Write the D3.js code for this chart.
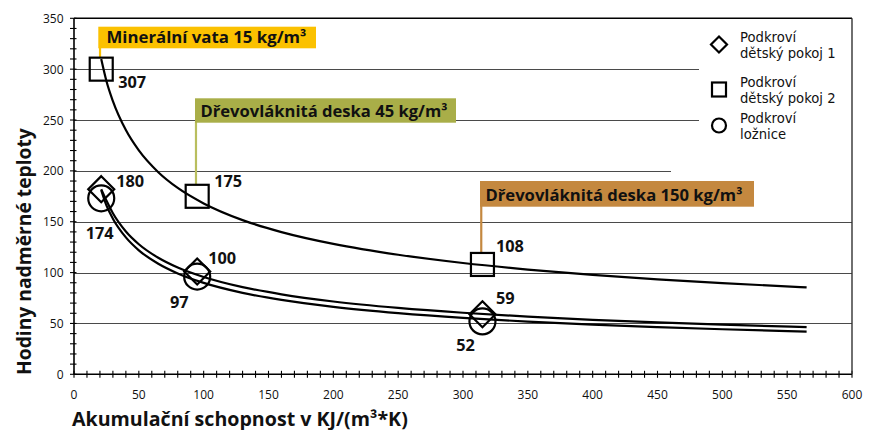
<!DOCTYPE html>
<html><head><meta charset="utf-8">
<script src="https://cdn.jsdelivr.net/npm/d3@7"></script>
<style>
body{margin:0;background:#fff;}
svg{display:block;font-family:"Open Sans",sans-serif;}
</style>
</head><body>
<svg id="chart" width="873" height="430"></svg>
<script>
// ---------- data ----------
const curveX = [21, 25, 30, 40, 50, 65, 80, 100, 130, 160, 200, 250, 300, 350, 400, 450, 500, 565];
const room1Curve   = [182, 170.8, 158.3, 140.4, 127.9, 114.6, 105.0, 95.7, 85.7, 78.6, 71.6, 65.3, 60.5, 56.7, 53.6, 51.0, 48.8, 46.4];
const room2Curve   = [310, 288.4, 268.6, 240.1, 220.1, 198.7, 183.2, 168.0, 151.6, 139.8, 128.2, 117.5, 109.4, 103.0, 97.8, 93.4, 89.6, 85.5];
const bedroomCurve = [181, 166.0, 153.0, 134.6, 121.9, 108.7, 99.2, 89.9, 80.1, 73.1, 66.3, 60.1, 55.4, 51.8, 48.8, 46.4, 44.3, 41.9];

const markerX        = [21, 95, 315];
const room1Values    = [182, 101, 59];
const room2Values    = [300, 175, 108];
const bedroomValues  = [173, 96, 52];
const room1Labels    = ["180", "100", "59"];
const room2Labels    = ["307", "175", "108"];
const bedroomLabels  = ["174", "97", "52"];

const seriesNames = [["Podkroví", "dětský pokoj 1"], ["Podkroví", "dětský pokoj 2"], ["Podkroví", "ložnice"]];
const materials = ["Minerální vata 15 kg/m³", "Dřevovláknitá deska 45 kg/m³", "Dřevovláknitá deska 150 kg/m³"];
const materialColors = ["#FBC100", "#A9AE48", "#C4883F"];
const materialLineColors = ["#FBC100", "#B9BE5E", "#C4883F"];

const xTicks = d3.range(0, 601, 50);
const yTicks = d3.range(0, 351, 50);
const xTitle = "Akumulační schopnost v KJ/(m³*K)";
const yTitle = "Hodiny nadměrné teploty";

// ---------- helpers ----------
function fit(sel, target) {
  const n = sel.node();
  const fs = parseFloat(sel.attr("font-size"));
  const w = n.getComputedTextLength();
  if (w > 0) sel.attr("font-size", (fs * target / w).toFixed(2));
  return sel;
}
function fittedSize(sample, base, weight, target, family) {
  const t = svg.append("text").attr("font-size", base).attr("font-weight", weight).text(sample);
  if (family) t.attr("font-family", family);
  const w = t.node().getComputedTextLength();
  t.remove();
  return w > 0 ? base * target / w : base;
}

// ---------- layout ----------
const svg = d3.select("#chart");
const x = d3.scaleLinear().domain([0, 600]).range([74, 852]);
const y = d3.scaleLinear().domain([0, 350]).range([374.3, 18.3]);

const legendFamily = "'DejaVu Sans', sans-serif";
const tickFont = fittedSize("350", 12.5, 400, 20.6);
const valueFont = fittedSize("307", 16, 700, 28);
const legendFont = Math.min(13.2, fittedSize("dětský pokoj 1", 13, 400, 97, legendFamily));

// grid lines
const gridExtent = {300: 699, 250: 699, 200: 671};
svg.append("g").selectAll("line").data(yTicks.filter(d => d > 0))
  .join("line")
  .attr("x1", x(0)).attr("x2", d => gridExtent[d] || x(600))
  .attr("y1", d => Math.round(y(d)) + 0.5).attr("y2", d => Math.round(y(d)) + 0.5)
  .attr("stroke", "#4a4a4a").attr("stroke-width", 1);

// annotation boxes
const boxLayout = [
  {x: 98.3, y: 26.7, w: 217.7, h: 21.6, tx: 106.5, ty: 43.4, tw: 200},
  {x: 195,  y: 98.3, w: 261,   h: 24.4, tx: 200.5, ty: 117.3, tw: 247},
  {x: 480,  y: 181,  w: 274,   h: 25.7, tx: 485.5, ty: 200.5, tw: 257}
];
const boxTargets = [
  {mx: markerX[0], my: room2Values[0]},
  {mx: markerX[1], my: room2Values[1]},
  {mx: markerX[2], my: room2Values[2]}
];
const ann = svg.append("g");
boxLayout.forEach((b, i) => {
  const cx = x(boxTargets[i].mx) - 1.2;
  ann.append("line")
    .attr("x1", cx).attr("x2", cx)
    .attr("y1", b.y + b.h - 1).attr("y2", y(boxTargets[i].my) - 11.5)
    .attr("stroke", materialLineColors[i]).attr("stroke-width", 2.2);
  ann.append("rect").attr("x", b.x).attr("y", b.y).attr("width", b.w).attr("height", b.h)
    .attr("fill", materialColors[i]);
  const t = ann.append("text").attr("x", b.tx).attr("y", b.ty)
    .attr("font-size", 16).attr("font-weight", 700).attr("fill", "#111")
    .text(materials[i]);
  fit(t, b.tw);
});

// curves
const line = d3.line().x(d => x(d[0])).y(d => y(d[1])).curve(d3.curveMonotoneX);
[room2Curve, room1Curve, bedroomCurve].forEach(c => {
  svg.append("path").datum(curveX.map((v, i) => [v, c[i]]))
    .attr("d", line).attr("fill", "none").attr("stroke", "#000").attr("stroke-width", 2.2);
});

// marker shapes
function drawMarker(g, type, cx, cy, s) {
  if (type === "diamond") {
    g.append("path").attr("d", `M${cx},${cy - s}L${cx + s},${cy}L${cx},${cy + s}L${cx - s},${cy}Z`)
      .attr("fill", "none").attr("stroke", "#000").attr("stroke-width", 2.2);
  } else if (type === "square") {
    g.append("rect").attr("x", cx - s).attr("y", cy - s).attr("width", 2 * s).attr("height", 2 * s)
      .attr("fill", "none").attr("stroke", "#000").attr("stroke-width", 2.2);
  } else {
    g.append("circle").attr("cx", cx).attr("cy", cy).attr("r", s)
      .attr("fill", "none").attr("stroke", "#000").attr("stroke-width", 2.2);
  }
}
const mk = svg.append("g");
markerX.forEach((mx, i) => {
  drawMarker(mk, "diamond", x(mx), y(room1Values[i]), 13);
  drawMarker(mk, "square", x(mx), y(room2Values[i]), 11.5);
  drawMarker(mk, "circle", x(mx), y(bedroomValues[i]), 13);
});

// value labels  [dx, dy, anchor]
const room1LabelPos   = [[15, -2, "start"], [11, -7.6, "start"], [13.5, -10.7, "start"]];
const room2LabelPos   = [[17, 19, "start"], [17, -9.6, "start"], [13.5, -12.5, "start"]];
const bedroomLabelPos = [[-15.5, 41, "start"], [-8.5, 31.6, "end"], [-7.5, 29.7, "end"]];
const lab = svg.append("g").attr("font-size", valueFont.toFixed(2)).attr("font-weight", 700).attr("fill", "#111");
function addLabels(vals, labels, pos) {
  markerX.forEach((mx, i) => {
    lab.append("text").attr("x", x(mx) + pos[i][0]).attr("y", y(vals[i]) + pos[i][1])
      .attr("text-anchor", pos[i][2]).text(labels[i]);
  });
}
addLabels(room1Values, room1Labels, room1LabelPos);
addLabels(room2Values, room2Labels, room2LabelPos);
addLabels(bedroomValues, bedroomLabels, bedroomLabelPos);

// legend
const legendY = [37, 82, 118];
const legendTypes = ["diamond", "square", "circle"];
const lg = svg.append("g").attr("font-family", legendFamily);
seriesNames.forEach((nm, i) => {
  drawMarker(lg, legendTypes[i], 719, legendY[i] + 7.5, legendTypes[i] === "diamond" ? 8 : 7);
  nm.forEach((s, j) => {
    lg.append("text").attr("x", 740).attr("y", legendY[i] + 4.6 + j * 16.5)
      .attr("font-size", legendFont.toFixed(2)).attr("fill", "#111").text(s);
  });
});

// axes
const xAxis = svg.append("g").attr("transform", `translate(0,${y(0)})`);
xAxis.append("line").attr("x1", x(0)).attr("x2", x(600)).attr("stroke", "#000").attr("stroke-width", 1.6);
xAxis.selectAll(".minor").data(d3.range(0, 601, 10)).join("line")
  .attr("x1", d => x(d)).attr("x2", d => x(d)).attr("y1", -3.5).attr("y2", 3.5)
  .attr("stroke", "#000").attr("stroke-width", 1.1);
xAxis.selectAll("text").data(xTicks).join("text")
  .attr("x", d => x(d)).attr("y", 25).attr("text-anchor", "middle")
  .attr("font-size", tickFont.toFixed(2)).attr("fill", "#111").text(d => d);

const yAxis = svg.append("g");
yAxis.append("line").attr("x1", x(0)).attr("x2", x(0)).attr("y1", y(0)).attr("y2", y(350))
  .attr("stroke", "#000").attr("stroke-width", 1.6);
yAxis.selectAll(".minor").data(d3.range(0, 351, 10)).join("line")
  .attr("x1", x(0) - 4).attr("x2", x(0) + 2.5).attr("y1", d => y(d)).attr("y2", d => y(d))
  .attr("stroke", "#000").attr("stroke-width", 1.1);
yAxis.selectAll("text").data(yTicks).join("text")
  .attr("x", 63.5).attr("y", d => y(d) + 4.5).attr("text-anchor", "end")
  .attr("font-size", tickFont.toFixed(2)).attr("fill", "#111").text(d => d);

// frame (top & right)
svg.append("line").attr("x1", x(0)).attr("x2", x(600)).attr("y1", y(350)).attr("y2", y(350))
  .attr("stroke", "#000").attr("stroke-width", 1.4);
svg.append("line").attr("x1", x(600)).attr("x2", x(600)).attr("y1", y(350)).attr("y2", y(0))
  .attr("stroke", "#333").attr("stroke-width", 1.4);

// titles
fit(svg.append("text").attr("x", 72).attr("y", 425.5)
  .attr("font-size", 17).attr("font-weight", 700).attr("fill", "#111").text(xTitle), 336);
fit(svg.append("text").attr("transform", "translate(31,375) rotate(-90)")
  .attr("font-size", 17).attr("font-weight", 700).attr("fill", "#111").text(yTitle), 247);
</script>
</body></html>
